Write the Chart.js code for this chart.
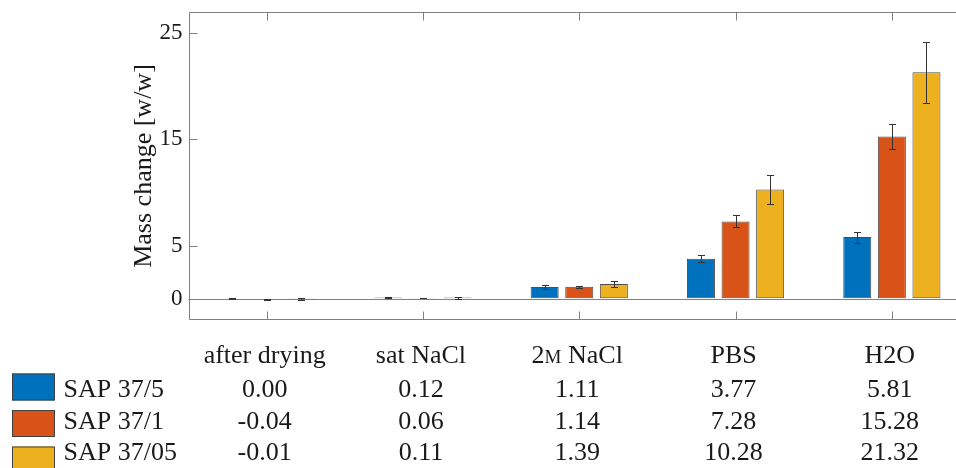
<!DOCTYPE html>
<html>
<head>
<meta charset="utf-8">
<style>
  html, body { margin: 0; padding: 0; background: #ffffff; overflow: hidden; }
  #wrap { width: 980px; height: 468px; position: relative; }
</style>
<script src="https://cdn.jsdelivr.net/npm/chart.js@4/dist/chart.umd.min.js"></script>
</head>
<body>
<div id="wrap"><canvas id="c" width="980" height="468"></canvas></div>
<script>
// ---- data ----
const categories = ['after drying', 'sat NaCl', '2M NaCl', 'PBS', 'H2O'];
const seriesNames = ['SAP 37/5', 'SAP 37/1', 'SAP 37/05'];
const sap375  = [0.00, 0.12, 1.11, 3.77, 5.81];
const sap371  = [-0.04, 0.06, 1.14, 7.28, 15.28];
const sap3705 = [-0.01, 0.11, 1.39, 10.28, 21.32];
const err375  = [0.05, 0.04, 0.20, 0.33, 0.52];
const err371  = [0.03, 0.03, 0.10, 0.57, 1.18];
const err3705 = [0.08, 0.10, 0.27, 1.34, 2.87];
const yTicks  = [0, 5, 15, 25];
const yMin = -2, yMax = 27;

// ---- style ----
const colors = ['#0072BD', '#D95319', '#EDB120'];
const SERIF = '"Liberation Serif", "Times New Roman", serif';
const textColor = '#1a1a1a';
const frameColor = '#808080';

const seriesValues = [sap375, sap371, sap3705];
const seriesErrors = [err375, err371, err3705];

// frame, inner ticks, zero line
const framePlugin = {
  id: 'frame',
  beforeDatasetsDraw(chart) {
    const {ctx, chartArea: a, scales: {y}} = chart;
    const y0 = Math.round(y.getPixelForValue(0)) + 0.5;
    ctx.save();
    ctx.strokeStyle = frameColor;
    ctx.lineWidth = 1;
    ctx.beginPath();
    ctx.moveTo(a.left, y0); ctx.lineTo(a.right, y0);
    ctx.stroke();
    ctx.restore();
  },
  afterDraw(chart) {
    const {ctx, chartArea: a, scales: {x, y}} = chart;
    const L = Math.round(a.left) + 0.5, T = Math.round(a.top) + 0.5;
    const B = Math.round(a.bottom) - 0.5, R = Math.round(a.right) - 0.5;
    ctx.save();
    ctx.strokeStyle = frameColor;
    ctx.lineWidth = 1;
    ctx.beginPath();
    ctx.moveTo(L, T); ctx.lineTo(R, T); ctx.lineTo(R, B); ctx.lineTo(L, B); ctx.closePath();
    const tl = 8;
    categories.forEach((c, i) => {
      const px = Math.round(x.getPixelForValue(i)) + 0.5;
      ctx.moveTo(px, T); ctx.lineTo(px, T + tl);
      ctx.moveTo(px, B); ctx.lineTo(px, B - tl);
    });
    yTicks.forEach(v => {
      const py = Math.round(y.getPixelForValue(v)) + 0.5;
      ctx.moveTo(L, py); ctx.lineTo(L + tl, py);
      ctx.moveTo(R, py); ctx.lineTo(R - tl, py);
    });
    ctx.stroke();
    ctx.restore();
  }
};

// error bars
const errorBarPlugin = {
  id: 'errorBars',
  afterDatasetsDraw(chart) {
    const {ctx, scales: {y}} = chart;
    ctx.save();
    ctx.strokeStyle = '#333333';
    ctx.lineWidth = 1;
    chart.data.datasets.forEach((ds, di) => {
      const meta = chart.getDatasetMeta(di);
      meta.data.forEach((bar, i) => {
        const v = ds.data[i], e = ds.errors[i];
        const px = Math.round(bar.x) + 0.5;
        const yt = Math.round(y.getPixelForValue(v + e)) + 0.5;
        const yb = Math.round(y.getPixelForValue(v - e)) + 0.5;
        const cap = 3.5;
        ctx.beginPath();
        ctx.moveTo(px, yt); ctx.lineTo(px, yb);
        ctx.moveTo(px - cap, yt); ctx.lineTo(px + cap, yt);
        ctx.moveTo(px - cap, yb); ctx.lineTo(px + cap, yb);
        ctx.stroke();
      });
    });
    ctx.restore();
  }
};

// table under the plot (headers, legend, values)
function drawLabel(ctx, label, cx, baseline, size) {
  // draws "2M NaCl" with a small-capital M (molar), other labels plain
  const m = label.match(/^(\d+)M( .*)$/);
  if (!m) {
    ctx.font = size + 'px ' + SERIF;
    ctx.textAlign = 'center';
    ctx.fillText(label, cx, baseline);
    return;
  }
  const big = size + 'px ' + SERIF, small = Math.round(size * 0.72) + 'px ' + SERIF;
  ctx.font = big; const w1 = ctx.measureText(m[1]).width;
  ctx.font = small; const w2 = ctx.measureText('M').width;
  ctx.font = big; const w3 = ctx.measureText(m[2]).width;
  let xx = cx - (w1 + w2 + w3) / 2;
  ctx.textAlign = 'left';
  ctx.font = big; ctx.fillText(m[1], xx, baseline); xx += w1;
  ctx.font = small; ctx.fillText('M', xx, baseline); xx += w2;
  ctx.font = big; ctx.fillText(m[2], xx, baseline);
}

const tablePlugin = {
  id: 'table',
  afterDraw(chart) {
    const {ctx, scales: {x}} = chart;
    const headerBase = 363;
    const rowBase = [396.5, 428.5, 459.5];
    const boxTop = [373.5, 410, 446.5];
    const size = 26;
    ctx.save();
    ctx.fillStyle = textColor;
    ctx.textBaseline = 'alphabetic';
    categories.forEach((c, i) => {
      const cx = x.getPixelForValue(i) - 2;
      drawLabel(ctx, c, cx, headerBase, size);
    });
    chart.data.datasets.forEach((ds, di) => {
      // legend box
      ctx.fillStyle = ds.backgroundColor;
      ctx.fillRect(12, boxTop[di], 42.5, 27);
      ctx.strokeStyle = '#404040';
      ctx.lineWidth = 1;
      ctx.strokeRect(12.5, boxTop[di] + 0.5, 42, 26);
      // legend text
      ctx.fillStyle = textColor;
      ctx.font = size + 'px ' + SERIF;
      ctx.textAlign = 'left';
      ctx.fillText(ds.label, 63.5, rowBase[di]);
      // values
      ctx.textAlign = 'center';
      ds.data.forEach((v, i) => {
        const cx = x.getPixelForValue(i) - 2;
        ctx.fillText(v.toFixed(2), cx, rowBase[di]);
      });
    });
    ctx.restore();
  }
};

const datasets = seriesNames.map((name, k) => ({
  label: name,
  data: seriesValues[k],
  errors: seriesErrors[k],
  backgroundColor: colors[k],
  borderColor: '#4d4d4d',
  borderWidth: 1,
  borderSkipped: false,
  categoryPercentage: 0.664,
  barPercentage: 0.81
}));

new Chart(document.getElementById('c'), {
  type: 'bar',
  data: { labels: categories, datasets },
  options: {
    responsive: false,
    animation: false,
    devicePixelRatio: 1,
    layout: { padding: { top: 12, bottom: 148, left: 0, right: 10 } },
    plugins: { legend: { display: false }, tooltip: { enabled: false } },
    scales: {
      x: {
        display: false,
        offset: true,
        grid: { display: false }
      },
      y: {
        min: yMin, max: yMax,
        afterBuildTicks(scale) { scale.ticks = yTicks.map(v => ({ value: v })); },
        afterFit(scale) {
          scale.width = 188.5;
          scale.paddingTop = 0;
          scale.paddingBottom = 0;
        },
        grid: { drawOnChartArea: false, drawTicks: false },
        border: { display: false },
        ticks: {
          padding: 6,
          color: textColor,
          font: { family: SERIF, size: 23 },
          callback: v => String(v)
        },
        title: {
          display: true,
          text: 'Mass change [w/w]',
          color: textColor,
          font: { family: SERIF, size: 26 },
          padding: { top: 128.5, bottom: 0 }
        }
      }
    }
  },
  plugins: [framePlugin, errorBarPlugin, tablePlugin]
});
</script>
</body>
</html>
